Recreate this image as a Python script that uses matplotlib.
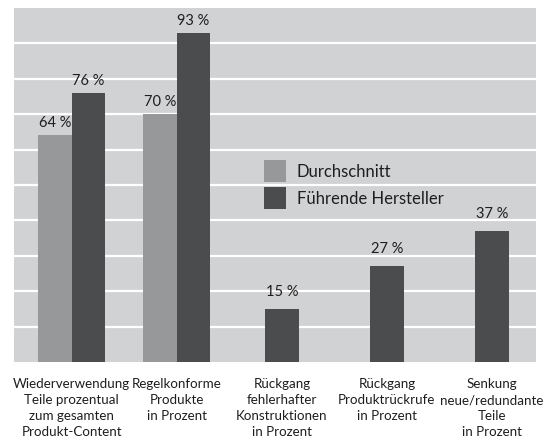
import matplotlib
matplotlib.use("Agg")
import matplotlib.pyplot as plt
import numpy as np
from matplotlib.patches import Rectangle

# Data
categories = [
    "Wiederverwendung\nTeile prozentual\nzum gesamten\nProdukt-Content",
    "Regelkonforme\nProdukte\nin Prozent",
    "Rückgang\nfehlerhafter\nKonstruktionen\nin Prozent",
    "Rückgang\nProduktrückrufe\nin Prozent",
    "Senkung\nneue/redundante\nTeile\nin Prozent",
]
durchschnitt = [64, 70, None, None, None]
fuehrende = [76, 93, 15, 27, 37]
series_names = ["Durchschnitt", "Führende Hersteller"]

BG = "#d1d2d4"
GRAY = "#97989a"
DARK = "#4b4c4e"
TXT = "#1e1e1e"
FONT = "Lato"

W, H = 552, 439
fig = plt.figure(figsize=(W / 100, H / 100), dpi=100)
fig.patch.set_facecolor("white")
ax = fig.add_axes([14 / W, (H - 363) / H, (536 - 14) / W, (363 - 9) / H])
ax.set_facecolor(BG)

x = np.arange(len(categories))
bw = 0.32
for i, (d, f) in enumerate(zip(durchschnitt, fuehrende)):
    if d is not None:
        ax.bar(x[i] - bw / 2, d, bw, color=GRAY, zorder=3)
        ax.annotate(f"{d} %", (x[i] - bw / 2, d), xytext=(0, 6), textcoords="offset pixels",
                    ha="center", va="bottom", fontsize=10.5, color=TXT, family=FONT)
        ax.bar(x[i] + bw / 2, f, bw, color=DARK, zorder=3)
        ax.annotate(f"{f} %", (x[i] + bw / 2, f), xytext=(0, 6), textcoords="offset pixels",
                    ha="center", va="bottom", fontsize=10.5, color=TXT, family=FONT)
    else:
        ax.bar(x[i], f, bw, color=DARK, zorder=3)
        ax.annotate(f"{f} %", (x[i], f), xytext=(0, 11), textcoords="offset pixels",
                    ha="center", va="bottom", fontsize=10.5, color=TXT, family=FONT)

ax.set_xlim(-0.55, 4.42)
ax.set_ylim(0, 100)
ax.set_yticks(np.arange(10, 100, 10))
ax.yaxis.grid(True, color="white", linewidth=1.6, zorder=1)
ax.tick_params(left=False, labelleft=False, bottom=False, length=0)
ax.set_xticks(x)
ax.set_xticklabels(categories, fontsize=9.6, color=TXT, family=FONT, linespacing=1.38)
ax.tick_params(axis="x", pad=11)
for s in ax.spines.values():
    s.set_visible(False)

# Legend
for j, (name, col) in enumerate(zip(series_names, [GRAY, DARK])):
    y0 = H - 183 - j * 27
    fig.patches.append(Rectangle((264 / W, y0 / H), 22 / W, 22 / H, transform=fig.transFigure,
                                 facecolor=col, edgecolor="none", zorder=5))
    fig.text(297 / W, (y0 + 11) / H, name, ha="left", va="center", fontsize=12,
             color=TXT, family=FONT, zorder=6)

fig.savefig("out.png", dpi=100, facecolor="white")
